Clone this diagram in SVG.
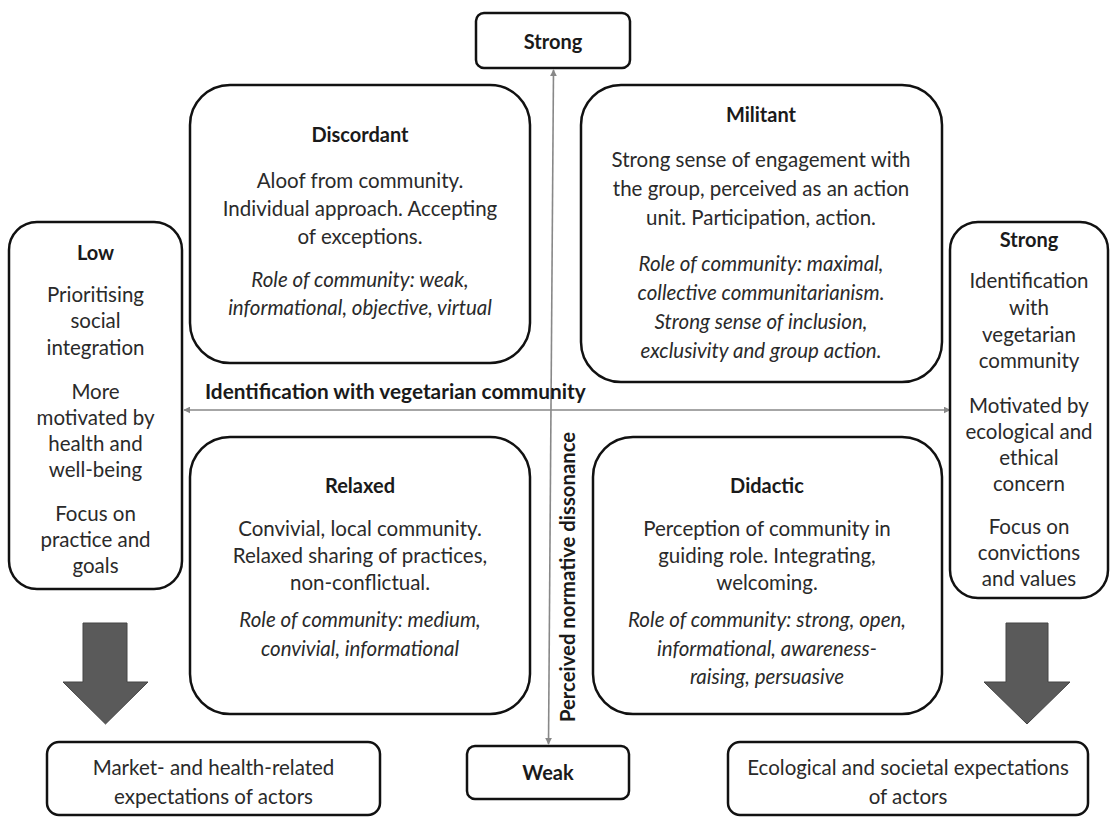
<svg xmlns="http://www.w3.org/2000/svg" width="1113" height="817" viewBox="0 0 1113 817">
<style>
text{font-family:Lato,"Open Sans","Liberation Sans",sans-serif;fill:#2a2a2a;text-anchor:middle;font-size:20.5px}
.b{font-weight:bold;font-size:20px;fill:#1a1a1a}
.lab{font-size:20.8px}
.i{font-style:italic}
.box{fill:#fff;stroke:#111;stroke-width:2.5}
.ax{stroke:#888;stroke-width:1.6;fill:none}
.big{fill:#5a5a5a;stroke:#444;stroke-width:1}
</style>
<defs>
<marker id="ah" viewBox="0 0 10 10" refX="9" refY="5" markerWidth="7" markerHeight="7" orient="auto-start-reverse" markerUnits="userSpaceOnUse">
<path d="M0,0 L10,5 L0,10 Z" fill="#888"/>
</marker>
</defs>
<rect width="1113" height="817" fill="#fff"/>
<g id="connectors">
<line class="ax" x1="553.5" y1="70" x2="548.5" y2="744" marker-start="url(#ah)" marker-end="url(#ah)"/>
<line class="ax" x1="184" y1="410" x2="950" y2="410" marker-start="url(#ah)" marker-end="url(#ah)"/>
<path class="big" d="M83,623 H127 V682 H148 L105.5,724 L63,682 H83 Z"/>
<path class="big" d="M1006,623 H1048 V682 H1070 L1027,724 L984,682 H1006 Z"/>
<text class="b lab" x="205" y="399" style="text-anchor:start">Identification with vegetarian community</text>
<text class="b" transform="translate(575,577) rotate(-90)" style="font-size:20.3px">Perceived normative dissonance</text>
</g>
<g id="strong-top">
<rect class="box" x="476" y="13" width="154" height="55" rx="8"/>
<text class="b" x="553" y="49">Strong</text>
</g>
<g id="weak-bottom">
<rect class="box" x="467" y="746" width="162" height="53" rx="8"/>
<text class="b" x="548" y="780">Weak</text>
</g>
<g id="low">
<rect class="box" x="9" y="222" width="173" height="367" rx="28"/>
<text class="b" x="95.5" y="260">Low</text>
<text x="95.5" y="302">Prioritising</text>
<text x="95.5" y="328">social</text>
<text x="95.5" y="355">integration</text>
<text x="95.5" y="399">More</text>
<text x="95.5" y="425">motivated by</text>
<text x="95.5" y="451">health and</text>
<text x="95.5" y="477">well-being</text>
<text x="95.5" y="521">Focus on</text>
<text x="95.5" y="547">practice and</text>
<text x="95.5" y="573">goals</text>
</g>
<g id="strong-right">
<rect class="box" x="950" y="222" width="158" height="376" rx="28"/>
<text class="b" x="1029" y="247">Strong</text>
<text x="1029" y="288">Identification</text>
<text x="1029" y="315">with</text>
<text x="1029" y="342">vegetarian</text>
<text x="1029" y="368">community</text>
<text x="1029" y="413">Motivated by</text>
<text x="1029" y="439">ecological and</text>
<text x="1029" y="465">ethical</text>
<text x="1029" y="491">concern</text>
<text x="1029" y="534">Focus on</text>
<text x="1029" y="560">convictions</text>
<text x="1029" y="586">and values</text>
</g>
<g id="discordant">
<rect class="box" x="190" y="85" width="340" height="278" rx="40"/>
<text class="b" x="360" y="142">Discordant</text>
<text x="360" y="188">Aloof from community.</text>
<text x="360" y="216">Individual approach. Accepting</text>
<text x="360" y="244">of exceptions.</text>
<text class="i" x="360" y="287">Role of community: weak,</text>
<text class="i" x="360" y="315">informational, objective, virtual</text>
</g>
<g id="militant">
<rect class="box" x="581" y="85" width="361" height="297" rx="40"/>
<text class="b" x="761" y="122">Militant</text>
<text x="761" y="167">Strong sense of engagement with</text>
<text x="761" y="196">the group, perceived as an action</text>
<text x="761" y="225">unit. Participation, action.</text>
<text class="i" x="761" y="271">Role of community: maximal,</text>
<text class="i" x="761" y="300">collective communitarianism.</text>
<text class="i" x="761" y="329">Strong sense of inclusion,</text>
<text class="i" x="761" y="358">exclusivity and group action.</text>
</g>
<g id="relaxed">
<rect class="box" x="190" y="437" width="340" height="277" rx="40"/>
<text class="b" x="360" y="493">Relaxed</text>
<text x="360" y="536">Convivial, local community.</text>
<text x="360" y="563">Relaxed sharing of practices,</text>
<text x="360" y="590">non-conflictual.</text>
<text class="i" x="360" y="627">Role of community: medium,</text>
<text class="i" x="360" y="656">convivial, informational</text>
</g>
<g id="didactic">
<rect class="box" x="593" y="437" width="349" height="277" rx="40"/>
<text class="b" x="767" y="493">Didactic</text>
<text x="767" y="536">Perception of community in</text>
<text x="767" y="563">guiding role. Integrating,</text>
<text x="767" y="590">welcoming.</text>
<text class="i" x="767" y="627">Role of community: strong, open,</text>
<text class="i" x="767" y="656">informational, awareness-</text>
<text class="i" x="767" y="684">raising, persuasive</text>
</g>
<g id="market">
<rect class="box" x="47" y="742" width="333" height="73" rx="12"/>
<text x="213.5" y="775">Market- and health-related</text>
<text x="213.5" y="804">expectations of actors</text>
</g>
<g id="ecological">
<rect class="box" x="728" y="742" width="360" height="73" rx="12"/>
<text x="908" y="775">Ecological and societal expectations</text>
<text x="908" y="804">of actors</text>
</g>
</svg>
